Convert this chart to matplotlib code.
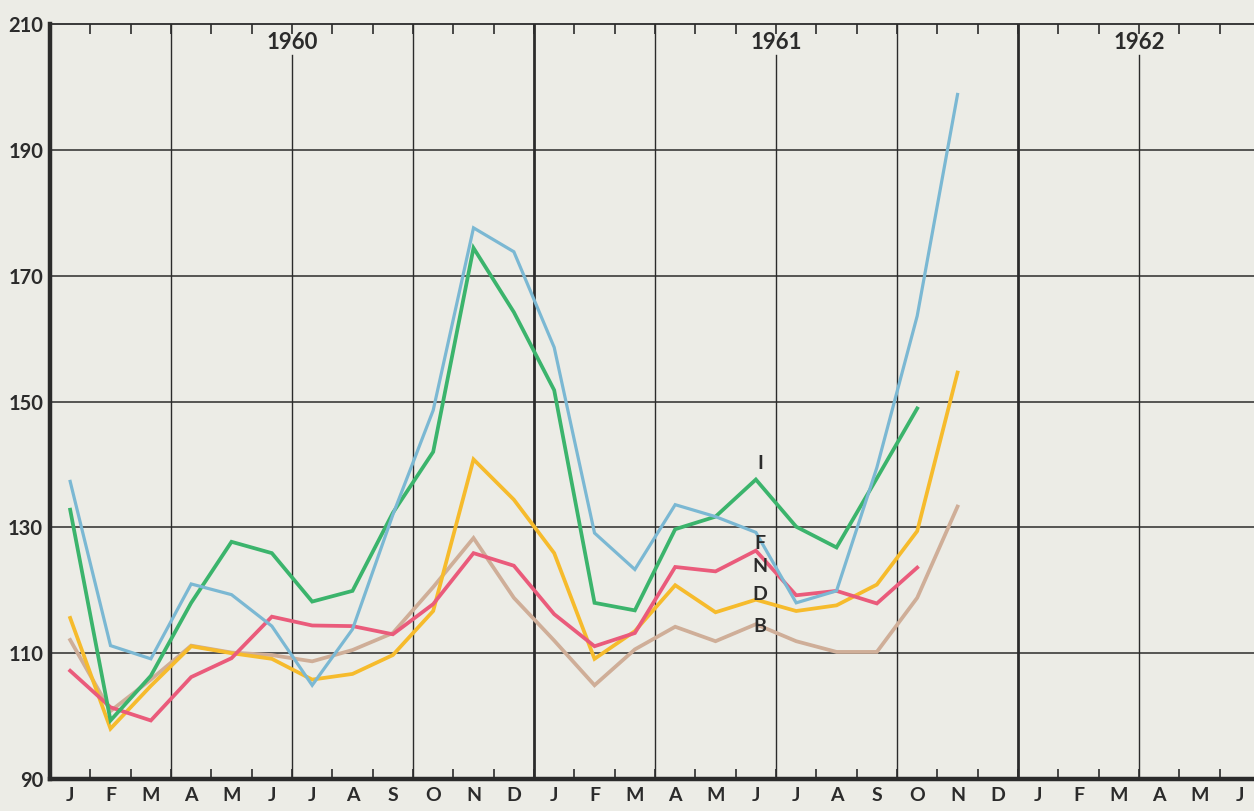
import numpy as np
import matplotlib
matplotlib.use("Agg")
import matplotlib.pyplot as plt

# monthly index values, Jan 1960 onwards
series_f = [137.3, 111.2, 109.1, 121.0, 119.3, 114.3, 104.9, 113.8, 132.0, 148.6, 177.6, 173.8,
            158.6, 129.1, 123.3, 133.6, 131.7, 129.2, 118.0, 119.9, 139.5, 163.6, 198.8]
series_i = [132.8, 99.3, 106.4, 118.0, 127.7, 125.9, 118.2, 119.9, 132.3, 142.0, 174.4, 164.2,
            151.8, 118.0, 116.8, 129.7, 131.7, 137.6, 130.1, 126.8, 137.8, 148.9]
series_n = [107.2, 101.4, 99.3, 106.2, 109.2, 115.8, 114.4, 114.3, 113.0, 117.8, 125.9, 123.9,
            116.2, 111.1, 113.2, 123.7, 123.0, 126.3, 119.2, 119.9, 117.9, 123.6]
series_d = [115.6, 98.0, 104.8, 111.1, 110.0, 109.1, 105.8, 106.7, 109.7, 116.7, 140.8, 134.4,
            125.9, 109.1, 113.5, 120.8, 116.5, 118.5, 116.7, 117.6, 120.9, 129.4, 154.6]
series_b = [112.1, 100.8, 105.8, 111.2, 110.1, 109.7, 108.7, 110.5, 113.2, 120.5, 128.3, 118.8,
            112.0, 104.9, 110.6, 114.2, 111.9, 114.6, 111.9, 110.2, 110.2, 118.8, 133.3]

month_letters = list("JFMAMJJASOND") * 3
years = ["1960", "1961", "1962"]
year_label_pos = [6, 18, 27]
y_ticks = [90, 110, 130, 150, 170, 190, 210]

series_labels = ["I", "F", "N", "D", "B"]
series_label_y = [140.2, 127.5, 123.8, 119.3, 114.3]

bg = "#ecece6"
ink = "#2b2b2b"
plt.rcParams["font.family"] = ["Lato", "DejaVu Sans"]

fig = plt.figure(figsize=(12.54, 8.11), dpi=100, facecolor=bg)
ax = fig.add_axes([50 / 1254, 32 / 811, 1204 / 1254, 755 / 811])
ax.set_facecolor(bg)
ax.set_xlim(0, 29.85)
ax.set_ylim(90, 210)

# grid
for v in y_ticks[1:-1]:
    ax.axhline(v, color=ink, lw=1.1, zorder=1)
label_gap = 1 - 31 / 755
for q in range(3, 30, 3):
    lw = 2.0 if q % 12 == 0 else 1.0
    top = label_gap if q in year_label_pos else 1
    ax.axvline(q, ymax=top, color=ink, lw=lw, zorder=1)

ax.spines["right"].set_visible(False)
ax.spines["left"].set_linewidth(3.2)
ax.spines["bottom"].set_linewidth(3.2)
ax.spines["top"].set_linewidth(1.3)
for s in ["left", "bottom", "top"]:
    ax.spines[s].set_color(ink)

ax.set_yticks(y_ticks)
ax.set_yticklabels([str(v) for v in y_ticks], fontsize=14.5, fontweight="bold", color=ink)
ax.tick_params(axis="y", length=0, pad=5)

ax.set_xticks(np.arange(30) + 0.5)
ax.set_xticklabels(month_letters[:30], fontsize=14, fontweight="bold", color=ink)
ax.set_xticks(np.arange(1, 30), minor=True)
ax.tick_params(axis="x", which="major", length=0, pad=6)
ax.tick_params(axis="x", which="minor", direction="in", length=7, width=1.2,
               top=True, bottom=True, color=ink)

for yr, xp in zip(years, year_label_pos):
    ax.text(xp, 207.1, yr, ha="center", va="center", fontsize=16,
            fontweight="bold", color=ink)

lines = [
    (series_b, "#cfae98", 2.7),
    (series_d, "#f6bb2c", 2.7),
    (series_n, "#ea5b7b", 2.7),
    (series_i, "#3bb46c", 2.7),
    (series_f, "#7bb8d3", 2.3),
]
for data, color, lw in lines:
    x = np.arange(len(data)) + 0.5
    ax.plot(x, data, color=color, lw=lw, solid_joinstyle="miter", zorder=3)

for lab, yv in zip(series_labels, series_label_y):
    ax.text(17.6, yv, lab, ha="center", va="center", fontsize=14,
            fontweight="bold", color=ink, zorder=4)

fig.savefig("out.png", dpi=100, facecolor=bg)
